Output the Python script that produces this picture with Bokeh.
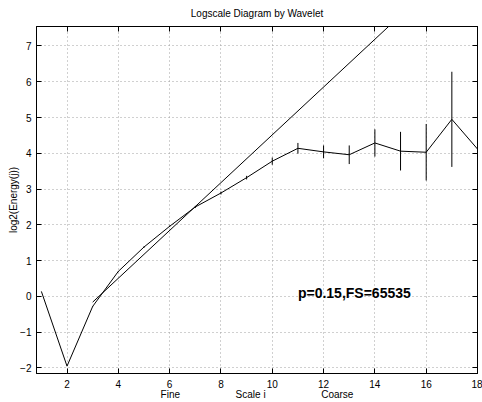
from bokeh.plotting import figure
from bokeh.models import LinearAxis, FixedTicker, CustomJSTickFormatter, ColumnDataSource, Range1d
from bokeh.core.properties import value
from bokeh.embed import file_html
from bokeh.resources import INLINE

# scales (octaves) and log2 energy estimates
scales = [1, 2, 3, 4, 5, 6, 7, 8, 9, 10, 11, 12, 13, 14, 15, 16, 17, 18]
log2_energy = [0.14, -1.95, -0.28, 0.70, 1.38, 1.96, 2.50, 2.89, 3.32, 3.78,
               4.14, 4.04, 3.96, 4.29, 4.06, 4.03, 4.95, 4.12]
# half-width of confidence intervals
ci_half = [0.0, 0.0, 0.01, 0.01, 0.02, 0.02, 0.03, 0.04, 0.05, 0.10,
           0.15, 0.18, 0.26, 0.38, 0.54, 0.79, 1.33, 3.65]

# regression line endpoints (j1=3 .. j2=18)
fit_x = [3, 18]
fit_y = [-0.16, 9.86]

x_ticks = [2, 4, 6, 8, 10, 12, 14, 16, 18]
y_ticks = [-2, -1, 0, 1, 2, 3, 4, 5, 6, 7]

title_text = "Logscale Diagram by Wavelet"
annotation = "p=0.15,FS=65535"
ann_x, ann_y = 11.0, 0.10

FONT = "Liberation Sans"
GRID = "#a0a0a0"

p = figure(width=482, height=402, output_backend="svg", toolbar_location=None,
           x_range=Range1d(0.81, 18.0), y_range=Range1d(-2.155, 7.545),
           min_border_left=36, min_border_right=5, min_border_top=26, min_border_bottom=25,
           background_fill_color="white", border_fill_color="white")

p.outline_line_color = "black"
p.outline_line_width = 1

neg_fmt = CustomJSTickFormatter(code="return tick < 0 ? '\u2212' + Math.abs(tick) : tick.toString();")
blank_fmt = CustomJSTickFormatter(code="return '';")

for ax in p.xaxis:
    ax.ticker = FixedTicker(ticks=x_ticks)
for ax in p.yaxis:
    ax.ticker = FixedTicker(ticks=y_ticks)
    ax.formatter = neg_fmt

for ax in p.xaxis + p.yaxis:
    ax.axis_line_color = "black"
    ax.major_tick_in = 5
    ax.major_tick_out = 0
    ax.minor_tick_line_color = None
    ax.major_label_text_font = FONT
    ax.major_label_text_font_size = "10px"
    ax.major_label_text_color = "black"
    ax.major_label_text_line_height = 1.0
    ax.axis_label_text_font = FONT
    ax.axis_label_text_font_size = "10px"
    ax.axis_label_text_font_style = "normal"
    ax.axis_label_text_color = "black"
    ax.axis_label_text_line_height = 1.0

p.xaxis.major_label_standoff = 6
p.xaxis.axis_label_standoff = -2
sp = "\u00a0" * 20
p.xaxis.axis_label = "Fine" + sp + "Scale i" + sp + "Coarse"
p.yaxis.major_label_standoff = 5
p.yaxis.axis_label_standoff = -2
p.yaxis.axis_label = "log2(Energy(j))"

# box axes on top and right with inward ticks, no tick labels; the top one carries the title
top = LinearAxis(ticker=FixedTicker(ticks=x_ticks), formatter=blank_fmt,
                 major_tick_in=5, major_tick_out=0, minor_tick_line_color=None,
                 major_label_standoff=0, axis_line_color="black",
                 axis_label=title_text, axis_label_standoff=8,
                 axis_label_text_font=FONT, axis_label_text_font_size="10px",
                 axis_label_text_font_style="normal", axis_label_text_color="black",
                 axis_label_text_line_height=1.0)
right = LinearAxis(ticker=FixedTicker(ticks=y_ticks), formatter=blank_fmt,
                   major_tick_in=5, major_tick_out=0, minor_tick_line_color=None,
                   major_label_standoff=0, axis_line_color="black")
p.add_layout(top, "above")
p.add_layout(right, "right")

p.xgrid.ticker = FixedTicker(ticks=x_ticks)
p.ygrid.ticker = FixedTicker(ticks=y_ticks)
for g in (p.xgrid, p.ygrid):
    g.grid_line_color = GRID
    g.grid_line_dash = "1 3"
    g.grid_line_width = 1

src = ColumnDataSource(dict(
    x=scales, y=log2_energy,
    lo=[m - h for m, h in zip(log2_energy, ci_half)],
    hi=[m + h for m, h in zip(log2_energy, ci_half)],
))

p.line(fit_x, fit_y, line_color="black", line_width=1)
p.line("x", "y", source=src, line_color="black", line_width=1)
p.segment(x0="x", y0="lo", x1="x", y1="hi", source=src, line_color="black", line_width=1)

p.text(x=[ann_x], y=[ann_y], text=[annotation], text_font=value(FONT),
       text_font_style="bold", text_font_size="14px", text_baseline="middle",
       text_align="left", text_color="black")

open("out.html", "w").write(file_html(p, INLINE))
